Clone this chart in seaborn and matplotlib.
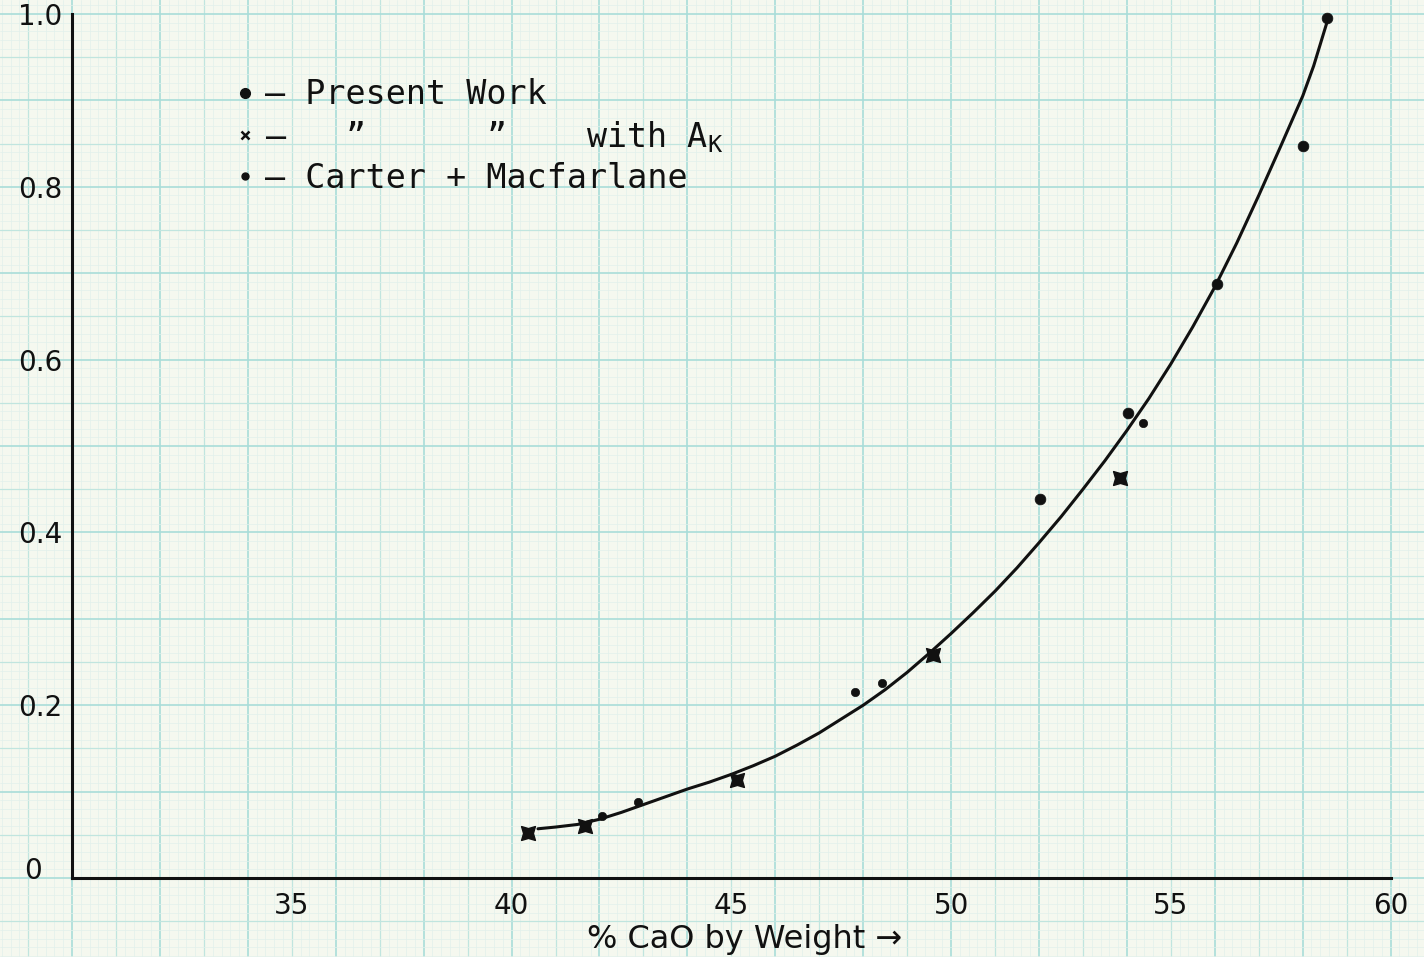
import numpy as np
import pandas as pd
import seaborn as sns
import matplotlib.pyplot as plt
from matplotlib.lines import Line2D
from matplotlib.transforms import ScaledTranslation

sns.set_style("white")
plt.rcParams['font.family'] = ['DejaVu Sans']
plt.rcParams['mathtext.fontset'] = 'custom'
plt.rcParams['mathtext.rm'] = 'DejaVu Sans Mono'

# Smooth curve drawn through the measurements (% CaO, value)
curve_cao = [40.6, 41.0, 41.5, 42.0, 42.5, 43.0, 43.5, 44.0, 44.5, 45.0,
             45.5, 46.0, 46.5, 47.0, 47.5, 48.0, 48.5, 49.0, 49.5, 50.0,
             50.5, 51.0, 51.5, 52.0, 52.5, 53.0, 53.5, 54.0, 54.5, 55.0,
             55.5, 56.0, 56.5, 57.0, 57.5, 58.0, 58.25, 58.55]
curve_val = [0.057, 0.059, 0.062, 0.068, 0.076, 0.085, 0.094, 0.103, 0.111, 0.120,
             0.130, 0.141, 0.154, 0.168, 0.184, 0.200, 0.218, 0.238, 0.260, 0.283,
             0.307, 0.332, 0.359, 0.388, 0.418, 0.450, 0.483, 0.518, 0.555, 0.595,
             0.638, 0.684, 0.735, 0.790, 0.847, 0.905, 0.940, 0.990]

# Present work
pw_cao = [52.03, 54.03, 56.05, 58.01, 58.55]
pw_val = [0.439, 0.538, 0.688, 0.847, 0.995]

# Present work with A_K
ak_cao = [40.37, 41.67, 45.13, 49.59, 53.85]
ak_val = [0.052, 0.060, 0.113, 0.258, 0.463]

# Carter & Macfarlane
cm_cao = [42.06, 42.88, 47.82, 48.43, 54.37]
cm_val = [0.072, 0.088, 0.215, 0.226, 0.527]

x_ticks = [35, 40, 45, 50, 55, 60]
y_ticks = [0, 0.2, 0.4, 0.6, 0.8, 1.0]
y_tick_labels = ['0', '0.2', '0.4', '0.6', '0.8', '1.0']

paper = '#f5f8ef'
ink = '#111111'

fig = plt.figure(figsize=(14.24, 9.57), dpi=100, facecolor=paper)
ax = fig.add_axes([0, 0, 1, 1])
ax.set_facecolor(paper)

xmin, xmax = 28.36, 60.76
ymin, ymax = -0.0914, 1.0162
ax.set_xlim(xmin, xmax)
ax.set_ylim(ymin, ymax)

# graph-paper ruling: fine every 0.2 / 0.01, medium every 1 / 0.05, heavy every 2 / 0.1
heavy = ('#a9ddd9', 1.2)
medium = ('#c0e5df', 0.9)
fine = ('#e2f0eb', 0.5)
for i in range(int(np.floor(xmin * 5)), int(np.ceil(xmax * 5)) + 1):
    c, lw = heavy if i % 10 == 0 else medium if i % 5 == 0 else fine
    ax.axvline(i / 5, color=c, lw=lw, zorder=0)
for j in range(int(np.floor(ymin * 100)), int(np.ceil(ymax * 100)) + 1):
    c, lw = heavy if j % 10 == 0 else medium if j % 5 == 0 else fine
    ax.axhline(j / 100, color=c, lw=lw, zorder=0)

df_curve = pd.DataFrame({'cao': curve_cao, 'val': curve_val})
sns.lineplot(data=df_curve, x='cao', y='val', ax=ax, color=ink, lw=2.2,
             sort=False, zorder=3)

sns.scatterplot(x=pw_cao, y=pw_val, ax=ax, color=ink, marker='o', s=60,
                edgecolor=ink, linewidth=0.5, zorder=4)
sns.scatterplot(x=cm_cao, y=cm_val, ax=ax, color=ink, marker='o', s=36,
                edgecolor=ink, linewidth=0.5, zorder=4)
sns.scatterplot(x=ak_cao, y=ak_val, ax=ax, color=ink, marker=(4, 1, 45), s=200,
                edgecolor=ink, linewidth=1.0, zorder=4)

# axes drawn as on ruled paper
for side in ['top', 'right']:
    ax.spines[side].set_visible(False)
ax.spines['left'].set_position(('data', 30))
ax.spines['left'].set_bounds(0, 1.0)
ax.spines['bottom'].set_position(('data', 0))
ax.spines['bottom'].set_bounds(30, 60)
for side in ['left', 'bottom']:
    ax.spines[side].set_linewidth(2.2)
    ax.spines[side].set_color(ink)
    ax.spines[side].set_zorder(5)

ax.set_xticks(x_ticks)
ax.set_xticklabels([str(t) for t in x_ticks])
ax.set_yticks(y_ticks)
ax.set_yticklabels(y_tick_labels)
ax.tick_params(axis='x', direction='out', length=3, width=1.5, pad=7,
               labelsize=20, colors=ink)
ax.tick_params(axis='y', direction='out', length=3, width=2, pad=4,
               labelsize=20, colors=ink)
ax.set_xlabel('')
ax.set_ylabel('')

# the origin label sits a little above and left of the axis corner
zero_label = ax.get_yticklabels()[0]
zero_label.set_transform(zero_label.get_transform() +
                         ScaledTranslation(-20 / 100, 10 / 100, fig.dpi_scale_trans))

ax.text(45.3, -0.0715, '% CaO by Weight \u2192', fontsize=23, color=ink,
        ha='center', va='center')

handles = [
    Line2D([], [], marker='o', color=ink, linestyle='none', markersize=7),
    Line2D([], [], marker='x', color=ink, linestyle='none', markersize=6, mew=1.8),
    Line2D([], [], marker='o', color=ink, linestyle='none', markersize=5),
]
labels = [
    '\u2013 Present Work',
    '\u2013' + ' ' * 3 + '\u201d' + ' ' * 6 + '\u201d' + ' ' * 4 + r'with A$_\mathrm{K}$',
    '\u2013 Carter + Macfarlane',
]
ax.legend(handles, labels, loc='upper left', bbox_to_anchor=(0.165, 0.918),
          bbox_transform=fig.transFigure, frameon=False,
          prop={'family': 'DejaVu Sans Mono', 'size': 24},
          handlelength=0.6, handletextpad=0.3, labelspacing=0.22,
          borderpad=0, borderaxespad=0, labelcolor=ink)

fig.savefig('out.png', dpi=100, facecolor=paper)
